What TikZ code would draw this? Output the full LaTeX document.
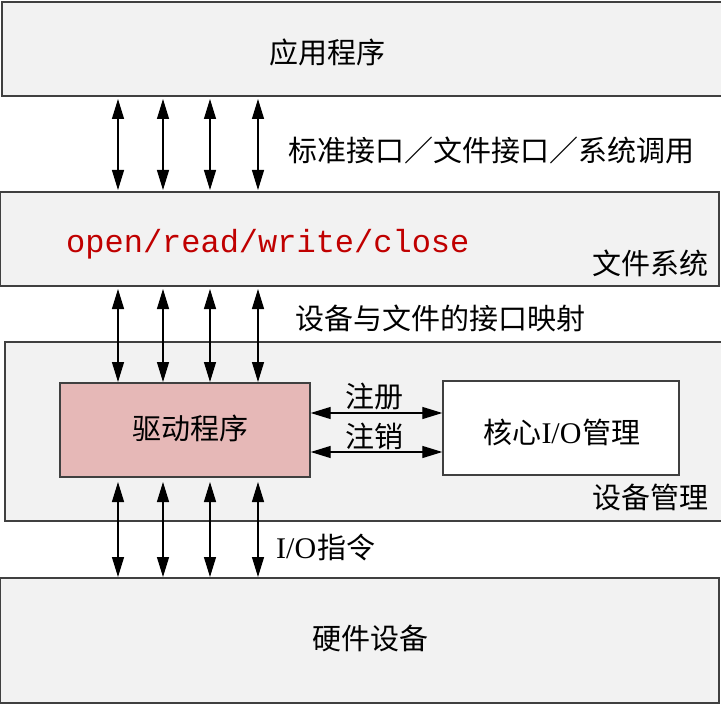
\documentclass[tikz,border=0pt]{standalone}
\usepackage{fontspec}
\newfontfamily\cjk{Noto Sans CJK SC}
\newfontfamily\monofnt{Liberation Mono}
\newfontfamily\serfnt{Liberation Serif}
\usetikzlibrary{arrows.meta}
\definecolor{boxgray}{HTML}{F2F2F2}
\definecolor{edgegray}{HTML}{404040}
\definecolor{drvpink}{HTML}{E6B8B7}
\definecolor{codered}{HTML}{C00000}
\newcommand{\io}{{\serfnt\fontsize{30}{32}\selectfont I/O\kern1pt}}
\tikzset{
  layer/.style={draw=edgegray, line width=1.4pt, fill=boxgray, rectangle},
  lbl/.style={inner sep=0pt, font=\cjk\fontsize{29}{32}\selectfont, text=black},
  tip/.tip={Triangle[length=20pt,width=12pt]},
  dbl/.style={tip-tip, line width=1.3pt, black},
}
\begin{document}
\begin{tikzpicture}[x=1pt,y=-1pt]
\useasboundingbox (0,0) rectangle (721,706);
% layers
\path[layer] (2,2) rectangle (723,96);
\path[layer] (0,192) rectangle (719,286);
\path[layer] (5,342) rectangle (723,521);
\path[layer] (0,578) rectangle (719,703);
% inner boxes
\node[draw=edgegray, line width=1.4pt, fill=drvpink, minimum width=250pt, minimum height=94pt, inner sep=0pt] (drv) at (185,430) {};
\node[draw=edgegray, line width=1.4pt, fill=white, minimum width=236pt, minimum height=94pt, inner sep=0pt] (core) at (561,428) {};
% texts
\node[lbl] (tapp) at (327,52) {应用程序};
\node[lbl, anchor=west] (tstd) at (288,150) {标准接口／文件接口／系统调用};
\node[inner sep=0pt, anchor=west, text=codered, font=\monofnt\fontsize{32}{34}\selectfont] (tcode) at (66,244) {open/read/write/close};
\node[lbl, anchor=east] (tfs) at (709,263) {文件系统};
\node[lbl, anchor=west] (tmap) at (295,318) {设备与文件的接口映射};
\node[lbl, anchor=east] (tdm) at (709,497) {设备管理};
\node[lbl] (tdrv) at (190,428) {驱动程序};
\node[lbl] (tcore) at (562,432) {核心\io 管理};
\node[lbl] (treg) at (374,397) {注册};
\node[lbl] (tunreg) at (374,436) {注销};
\node[lbl, anchor=west] (tio) at (276,547) {\io 指令};
\node[lbl] (thw) at (370,638) {硬件设备};
% vertical arrows
\foreach \x in {118,163,210,258}{
  \draw[dbl] (\x,99) -- (\x,190);
  \draw[dbl] (\x,289) -- (\x,382);
  \draw[dbl] (\x,482) -- (\x,577);
}
% register arrows
\draw[dbl] (drv.east |- 0,413) -- (core.west |- 0,413);
\draw[dbl] (drv.east |- 0,452) -- (core.west |- 0,452);
\end{tikzpicture}
\end{document}
